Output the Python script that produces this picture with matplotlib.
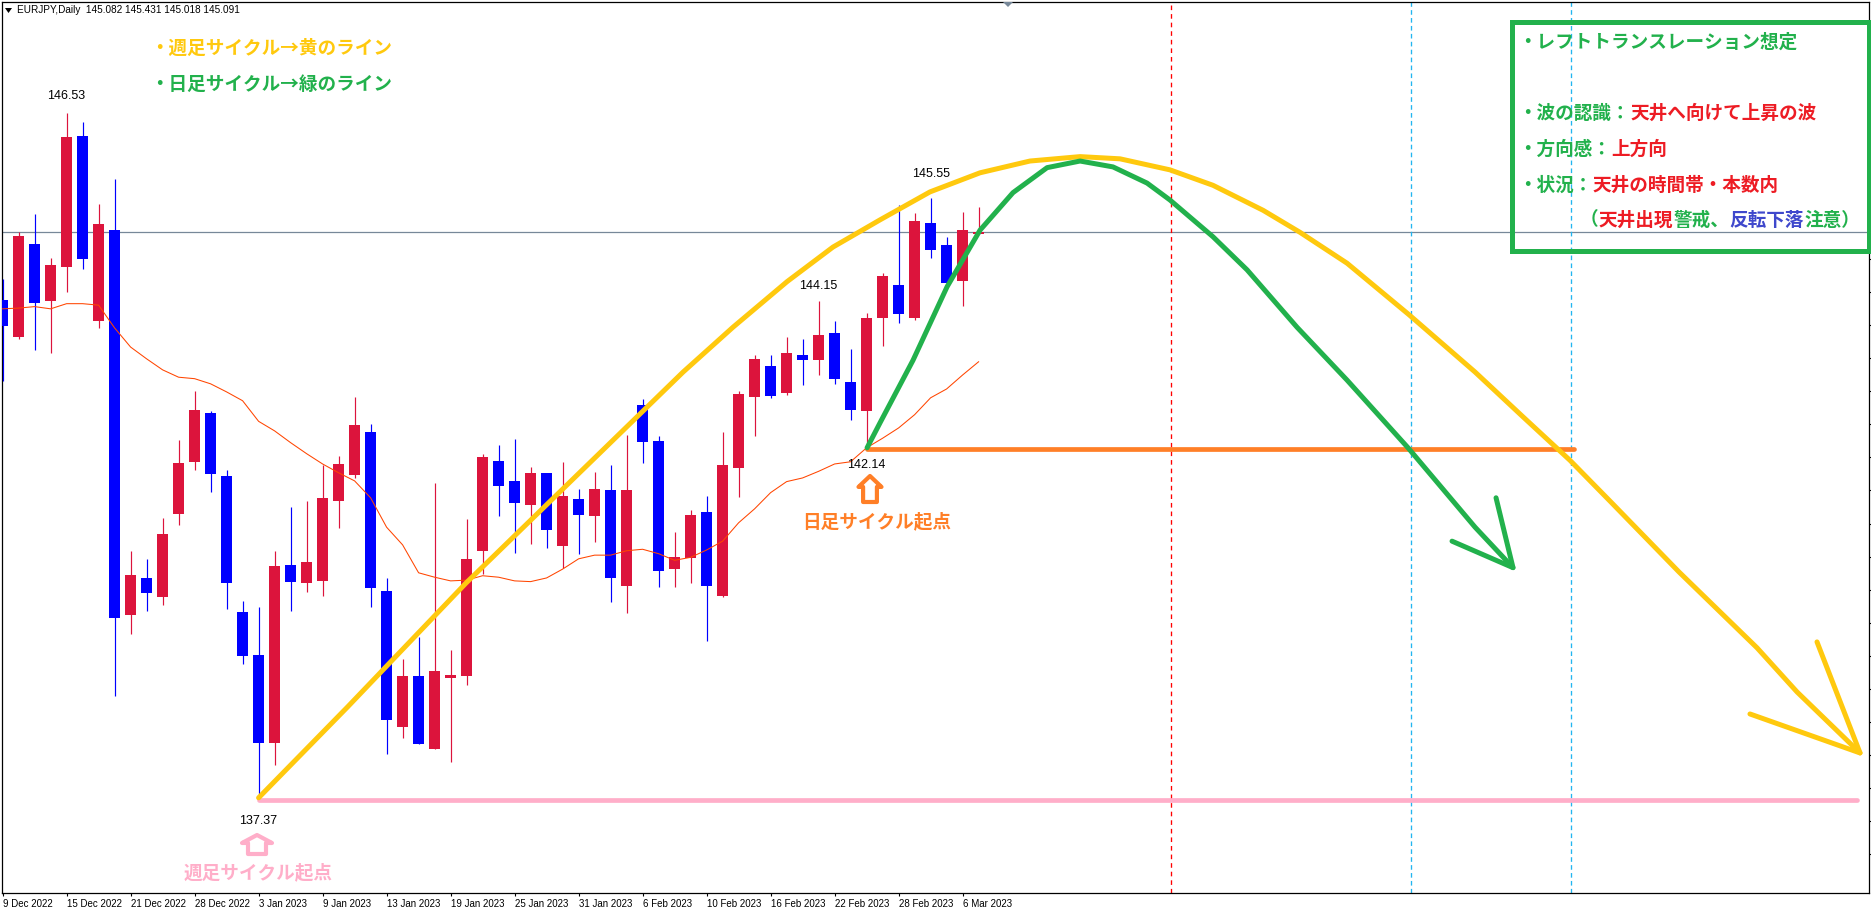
import matplotlib
matplotlib.use('Agg')
import matplotlib.pyplot as plt
from matplotlib.patches import Polygon, Rectangle

W, H = 1871, 909
JP = ['Noto Sans CJK JP', 'DejaVu Sans']
LAT = ['Liberation Sans', 'DejaVu Sans']

YELLOW = '#FFC90E'
GREEN = '#22B14C'
ORANGE = '#FF7F27'
PINK = '#FFAEC9'
RED_TXT = '#ED1C24'
BLUE_TXT = '#3F48CC'

# daily candles, 9 Dec 2022 -> 7 Mar 2023
opens = [144.14, 143.64, 144.90, 144.12, 144.59, 146.37, 143.86, 145.09, 139.86, 140.36,
         140.10, 141.23, 141.94, 142.60, 141.75, 139.90, 139.31, 138.12, 140.54, 140.29,
         140.32, 141.41, 141.76, 142.35, 140.18, 138.33, 139.03, 138.03, 139.00, 139.03,
         140.73, 141.95, 141.68, 141.35, 141.79, 140.79, 141.43, 141.20, 141.56, 140.25,
         142.71, 142.22, 140.48, 140.63, 141.26, 140.11, 141.86, 142.82, 143.24, 142.88,
         143.39, 143.32, 143.69, 143.03, 142.63, 143.90, 144.34, 143.90, 145.19, 144.89,
         144.40, 145.04]
highs = [144.43, 145.07, 145.31, 144.71, 146.69, 146.56, 145.45, 145.79, 140.73, 140.62,
         141.18, 142.24, 142.90, 142.63, 141.83, 140.05, 139.97, 140.73, 141.33, 141.41,
         141.90, 142.02, 142.82, 142.45, 140.36, 139.26, 139.56, 141.65, 139.38, 141.16,
         142.05, 142.17, 142.25, 141.87, 141.79, 141.94, 141.57, 141.80, 141.90, 142.30,
         142.79, 142.29, 140.99, 141.28, 141.47, 142.35, 142.90, 143.39, 143.39, 143.64,
         143.61, 144.13, 143.86, 143.47, 143.96, 144.51, 145.43, 145.32, 145.53, 145.00,
         145.34, 145.41]
lows = [143.04, 143.61, 143.46, 143.42, 144.25, 144.56, 143.76, 138.76, 139.60, 139.91,
        139.99, 141.08, 141.83, 141.53, 139.94, 139.19, 137.37, 137.82, 139.91, 140.17,
        140.11, 141.04, 141.72, 139.97, 137.97, 138.18, 138.10, 138.03, 137.86, 138.90,
        140.41, 141.20, 140.70, 140.82, 140.77, 140.50, 140.69, 140.85, 140.03, 139.88,
        141.92, 140.24, 140.24, 140.29, 139.50, 140.10, 141.46, 142.29, 142.81, 142.85,
        142.98, 143.12, 143.00, 142.51, 142.13, 143.51, 143.83, 143.87, 144.71, 144.32,
        144.06, 145.04]
closes = [143.79, 145.01, 144.10, 144.62, 146.35, 144.70, 145.18, 139.82, 140.40, 140.16,
          140.96, 141.92, 142.64, 141.77, 140.29, 139.30, 138.12, 140.52, 140.31, 140.58,
          141.45, 141.91, 142.44, 140.22, 138.43, 139.03, 138.10, 139.09, 139.04, 140.62,
          142.00, 141.61, 141.38, 141.79, 141.01, 141.47, 141.22, 141.57, 140.36, 141.56,
          142.21, 140.45, 140.64, 141.22, 140.25, 141.90, 142.86, 143.34, 142.83, 143.42,
          143.32, 143.66, 143.07, 142.64, 143.90, 144.47, 143.95, 145.21, 144.82, 144.37,
          145.09, 145.07]
ma = [144.02, 144.03, 144.05, 144.02, 144.09, 144.09, 144.07, 143.76, 143.50, 143.34,
      143.19, 143.09, 143.07, 143.00, 142.89, 142.77, 142.49, 142.36, 142.20, 142.05,
      141.91, 141.79, 141.68, 141.45, 141.05, 140.81, 140.43, 140.37, 140.32, 140.33,
      140.39, 140.37, 140.32, 140.31, 140.36, 140.48, 140.62, 140.67, 140.67, 140.73,
      140.75, 140.69, 140.60, 140.64, 140.74, 140.86, 141.11, 141.30, 141.52, 141.67,
      141.72, 141.81, 141.91, 141.94, 142.13, 142.26, 142.40, 142.58, 142.81, 142.93,
      143.12, 143.30]

tick_every = 4
tick_labels = ['9 Dec 2022', '15 Dec 2022', '21 Dec 2022', '28 Dec 2022', '3 Jan 2023',
               '9 Jan 2023', '13 Jan 2023', '19 Jan 2023', '25 Jan 2023', '31 Jan 2023',
               '6 Feb 2023', '10 Feb 2023', '16 Feb 2023', '22 Feb 2023', '28 Feb 2023',
               '6 Mar 2023']

# hand drawn cycle curves (bar number, price)
weekly_x = [16, 21.58, 28.96, 37.52, 42.53, 45.65, 49.03, 51.90, 54.84, 57.96, 61.09, 64.21,
            67.34, 69.84, 72.96, 75.65, 78.78, 81.09, 84.03, 87.90, 92.03, 95.03, 97.96,
            100.53, 104.78, 109.65, 112.15, 116.09]
weekly_y = [137.37, 138.61, 140.29, 142.10, 143.16, 143.77, 144.39, 144.86, 145.23, 145.61,
            145.87, 146.03, 146.09, 146.06, 145.91, 145.70, 145.36, 145.06, 144.64, 143.94,
            143.16, 142.55, 141.96, 141.39, 140.44, 139.41, 138.81, 137.98]
weekly_barb_x = [113.40, 116.09, 109.21]
weekly_barb_y = [139.49, 137.98, 138.51]
daily_x = [54.03, 54.84, 56.90, 59.03, 61.09, 63.15, 65.28, 67.34, 69.40, 71.53, 72.96, 75.65,
           77.78, 80.90, 84.03, 87.84, 92.03, 94.40]
daily_y = [142.13, 142.47, 143.32, 144.32, 145.09, 145.60, 145.94, 146.03, 145.95, 145.73,
           145.50, 145.00, 144.55, 143.77, 143.05, 142.13, 141.05, 140.50]
daily_barb_x = [93.34, 94.40, 90.59]
daily_barb_y = [141.45, 140.50, 140.86]

bid_price = 145.07
weekly_start = (16, 137.34)
weekly_end = 115.9
daily_start = (54, 142.11)
daily_end = 98.2
red_vline = 73
blue_vlines = [88, 98]

price_labels = [(4, 146.53, 96), (16, 137.37, 821), (51, 144.15, 286),
                (58, 145.55, 174), (54, 142.14, 465)]


def fx(x):
    return x / W


def fy(y):
    return 1 - y / H


fig = plt.figure(figsize=(W / 100, H / 100), dpi=100, facecolor='white')
left, right, top, bottom = 2, 1869.5, 1.5, 893
ax = fig.add_axes([fx(left), fy(bottom), fx(right - left), (bottom - top) / H])

# 16 px per bar, 0.0136 yen per px
ax.set_xlim((left - 2.6) / 16, (right - 2.6) / 16)
ax.set_ylim(148.22 - 0.0136 * bottom, 148.22 - 0.0136 * top)

for s in ax.spines.values():
    s.set_linewidth(0.9)
    s.set_color('black')

# candles
for i in range(len(opens)):
    col = '#DC143C' if closes[i] >= opens[i] else '#0000FF'
    ax.vlines(i, lows[i], highs[i], color=col, linewidth=0.85, zorder=3)
    ax.bar(i, abs(closes[i] - opens[i]), bottom=min(opens[i], closes[i]), width=0.69,
           color=col, linewidth=0, zorder=3)

ax.plot(range(len(ma)), ma, color='#FF4500', linewidth=0.75, zorder=4)
ax.axhline(bid_price, color='#778899', linewidth=0.9, zorder=1)
ax.axvline(red_vline, color='#FF0000', linewidth=0.95, dashes=(3.5, 3), zorder=1)
for v in blue_vlines:
    ax.axvline(v, color='#22B5F0', linewidth=0.95, dashes=(3.5, 2.5), zorder=1)

# drawn levels and curves
ax.plot([weekly_start[0], weekly_end], [weekly_start[1]] * 2, color=PINK, linewidth=3.4,
        solid_capstyle='round', zorder=5)
ax.plot([daily_start[0], daily_end], [daily_start[1]] * 2, color=ORANGE, linewidth=3.4,
        solid_capstyle='round', zorder=5)
ax.plot(weekly_x, weekly_y, color=YELLOW, linewidth=3.6, solid_capstyle='round',
        solid_joinstyle='round', zorder=6)
ax.plot(weekly_barb_x, weekly_barb_y, color=YELLOW, linewidth=3.6, solid_capstyle='round',
        solid_joinstyle='round', zorder=6)
ax.plot(daily_x, daily_y, color=GREEN, linewidth=3.6, solid_capstyle='round',
        solid_joinstyle='round', zorder=6)
ax.plot(daily_barb_x, daily_barb_y, color=GREEN, linewidth=3.6, solid_capstyle='round',
        solid_joinstyle='round', zorder=6)

# time axis, labels start at the tick like MT4
ax.set_xticks(range(0, len(opens), tick_every))
ax.set_xticklabels(tick_labels, fontsize=7.0, family=LAT, ha='left')
ax.tick_params(axis='x', length=2.5, width=0.8, pad=1.5)
for lab in ax.get_xticklabels():
    lab.set_x(lab.get_position()[0])

ax.yaxis.tick_right()
ax.set_yticks([136.60 + 0.45 * k for k in range(26)])
ax.set_yticklabels([])
ax.tick_params(axis='y', length=1.5, width=0.8)

for bar, price, py in price_labels:
    ax.text(bar, ax.get_ylim()[0], f'{price:.2f}', fontsize=9, family=LAT, color='black',
            ha='center', va='center', zorder=8,
            transform=ax.get_xaxis_transform() if False else ax.transData).set_y(148.22 - 0.0136 * py)

# chart header
fig.text(fx(17), fy(10), 'EURJPY,Daily  145.082 145.431 145.018 145.091', fontsize=7.2,
         family=LAT, color='black', va='center', ha='left')
fig.add_artist(Polygon([(fx(5), fy(8)), (fx(12), fy(8)), (fx(8.5), fy(13))], closed=True,
                       color='black', linewidth=0))
fig.add_artist(Polygon([(fx(1003), fy(2)), (fx(1013), fy(2)), (fx(1008), fy(7))], closed=True,
                       color='#778899', linewidth=0))

# legend text top left
fig.text(fx(150), fy(48), '・週足サイクル→黄のライン', color=YELLOW, fontsize=13.4, family=JP,
         weight='bold', va='center', ha='left')
fig.text(fx(150), fy(84), '・日足サイクル→緑のライン', color=GREEN, fontsize=13.4, family=JP,
         weight='bold', va='center', ha='left')


def up_arrow(cx, ytop, w, h, color):
    sw = w * 0.30
    pts = [(cx, ytop), (cx + w / 2, ytop + h * 0.42), (cx + sw, ytop + h * 0.42),
           (cx + sw, ytop + h), (cx - sw, ytop + h), (cx - sw, ytop + h * 0.42),
           (cx - w / 2, ytop + h * 0.42)]
    fig.add_artist(Polygon([(fx(a), fy(b)) for a, b in pts], closed=True, facecolor='white',
                           edgecolor=color, linewidth=3.0, joinstyle='round', zorder=7))


up_arrow(257, 835, 30, 19, PINK)
up_arrow(870, 476, 23, 26, ORANGE)
fig.text(fx(258), fy(873), '週足サイクル起点', color=PINK, fontsize=13.4, family=JP, weight='bold',
         va='center', ha='center')
fig.text(fx(877), fy(522), '日足サイクル起点', color=ORANGE, fontsize=13.4, family=JP, weight='bold',
         va='center', ha='center')

# scenario box
fig.add_artist(Rectangle((fx(1511.5), fy(250.5)), (1868.5 - 1511.5) / W, (250.5 - 21.5) / H,
                         fill=False, edgecolor=GREEN, linewidth=3.6, zorder=7))

CELL = 18.67
box_lines = [
    (1518, 42, [('・レフトトランスレーション想定', GREEN)]),
    (1518, 113, [('・波の認識：', GREEN), ('天井へ向けて上昇の波', RED_TXT)]),
    (1518, 149, [('・方向感：', GREEN), ('上方向', RED_TXT)]),
    (1518, 185, [('・状況：', GREEN), ('天井の時間帯・本数内', RED_TXT)]),
    (1580, 220, [('（', GREEN), ('天井出現', RED_TXT), ('警戒、', GREEN), ('反転下落', BLUE_TXT),
                 ('注意）', GREEN)]),
]
for x0, py, runs in box_lines:
    n = 0
    for txt, col in runs:
        fig.text(fx(x0 + n * CELL), fy(py), txt, color=col, fontsize=13.4, family=JP,
                 weight='bold', va='center', ha='left', zorder=8)
        n += len(txt)

fig.savefig('out.png', dpi=100)
